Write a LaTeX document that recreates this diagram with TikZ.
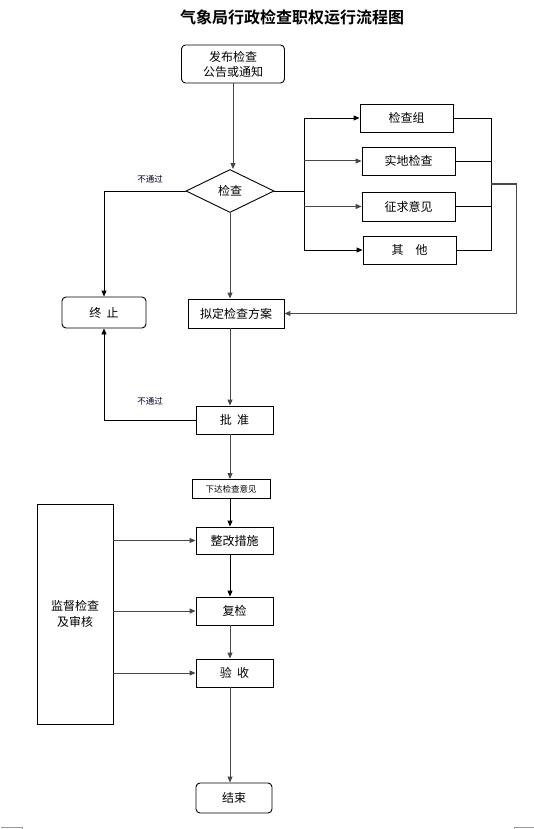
\documentclass[tikz,border=0pt]{standalone}
\usepackage{fontspec}
\newfontfamily\cjk{Noto Sans CJK SC}
\newfontfamily\cjkb{Noto Sans CJK SC Bold}
\usetikzlibrary{shapes.geometric,arrows.meta}
\begin{document}
\begin{tikzpicture}[x=1pt,y=-1pt,
  font=\cjk\fontsize{12}{14}\selectfont,
  ln/.style={line width=0.9pt,draw=black},
  lg/.style={line width=1pt,draw=black!72},
  arr/.style={-{Triangle[length=6pt,width=5pt]}},
  bx/.style={draw,line width=0.9pt,inner sep=0pt,minimum width=#1,align=center},
  rbx/.style={bx=#1,rounded corners=4pt},
  lab/.style={font=\cjk\fontsize{8.5}{10}\selectfont,text=black!85!blue}]
\useasboundingbox (0,0) rectangle (534,829);

\node[font=\cjkb\fontsize{16}{18}\selectfont] (title) at (292,17) {气象局行政检查职权运行流程图};

\node[rbx=103pt,minimum height=38pt,font=\cjk\fontsize{12}{15}\selectfont] (start) at (233,64) {发布检查\\公告或通知};
\node[draw,diamond,line width=0.9pt,inner sep=0pt,minimum width=88pt,minimum height=43pt] (dia) at (230,191) {检查};

\node[bx=93pt,minimum height=28pt] (g1) at (406.5,118) {检查组};
\node[bx=93pt,minimum height=28pt] (g2) at (408.5,161) {实地检查};
\node[bx=93pt,minimum height=29pt] (g3) at (408.5,206.5) {征求意见};
\node[bx=93pt,minimum height=28pt] (g4) at (409.5,250) {其\quad 他};

\node[rbx=84pt,minimum height=31pt] (stop) at (104,312.5) {终\ \ 止};
\node[bx=96pt,minimum height=29pt] (plan) at (236,313.5) {拟定检查方案};
\node[bx=77pt,minimum height=28pt] (appr) at (234.5,420) {批\ \ 准};
\node[bx=78pt,minimum height=19pt,font=\cjk\fontsize{8.5}{10}\selectfont] (issue) at (231,489) {下达检查意见};
\node[bx=77pt,minimum height=27pt] (fix) at (234.5,540.5) {整改措施};
\node[bx=77pt,minimum height=28pt] (rech) at (234.5,611) {复检};
\node[bx=77pt,minimum height=28pt] (acc) at (234.5,673) {验\ \ 收};
\node[bx=76pt,minimum height=220pt,font=\cjk\fontsize{12}{16}\selectfont] (sup) at (75,614) {监督检查\\及审核};
\node[rbx=76pt,minimum height=30pt] (end) at (234,798) {结束};

\coordinate (bl) at (304,191);
\coordinate (br) at (491,184);
\coordinate (fb) at (516,184);
\coordinate (sp) at (230,0);

% start -> diamond
\draw[lg,arr] (start.south) -- (start.south |- dia.north);
% diamond -> branches
\draw[ln] (dia.east) -- (bl);
\draw[ln] (bl |- g1) -- (bl |- g4);
\draw[ln,arr] (bl |- g1) -- (g1.west);
\draw[lg,arr] (bl |- g2) -- (g2.west);
\draw[lg,arr] (bl |- g3) -- (g3.west);
\draw[ln,arr] (bl |- g4) -- (g4.west);
% branches -> collector
\draw[ln] (g1.east) -- (br |- g1) -- (br |- g4) -- (g4.east);
\draw[ln] (g2.east) -- (br |- g2);
\draw[ln] (g3.east) -- (br |- g3);
\draw[lg,arr] (br) -- (fb) -- (fb |- plan) -- (plan.east);
% not passed
\draw[ln,arr] (dia.west) -| (stop.north);
\node[lab] (np1) at (150,179) {不通过};
\draw[lg,arr] (dia.south) -- (dia.south |- plan.north);
\draw[lg,arr] (sp |- plan.south) -- (sp |- appr.north);
\draw[ln,arr] (appr.west) -| (stop.south);
\node[lab] (np2) at (150,401) {不通过};
\draw[lg,arr] (sp |- appr.south) -- (sp |- issue.north);
\draw[ln,arr] (sp |- issue.south) -- (sp |- fix.north);
\draw[ln,arr] (sp |- fix.south) -- (sp |- rech.north);
\draw[lg,arr] (sp |- rech.south) -- (sp |- acc.north);
\draw[lg,arr] (sp |- acc.south) -- (sp |- end.north);
% supervision
\draw[lg,arr] (sup.east |- fix) -- (fix.west);
\draw[lg,arr] (sup.east |- rech) -- (rech.west);
\draw[lg,arr] (sup.east |- acc) -- (acc.west);

% page corner marks
\draw[black!40,line width=0.8pt] (1,827.5) -- (22,827.5) -- (22,829);
\draw[black!40,line width=0.8pt] (514,829) -- (514,827.5) -- (534,827.5);
\end{tikzpicture}
\end{document}
